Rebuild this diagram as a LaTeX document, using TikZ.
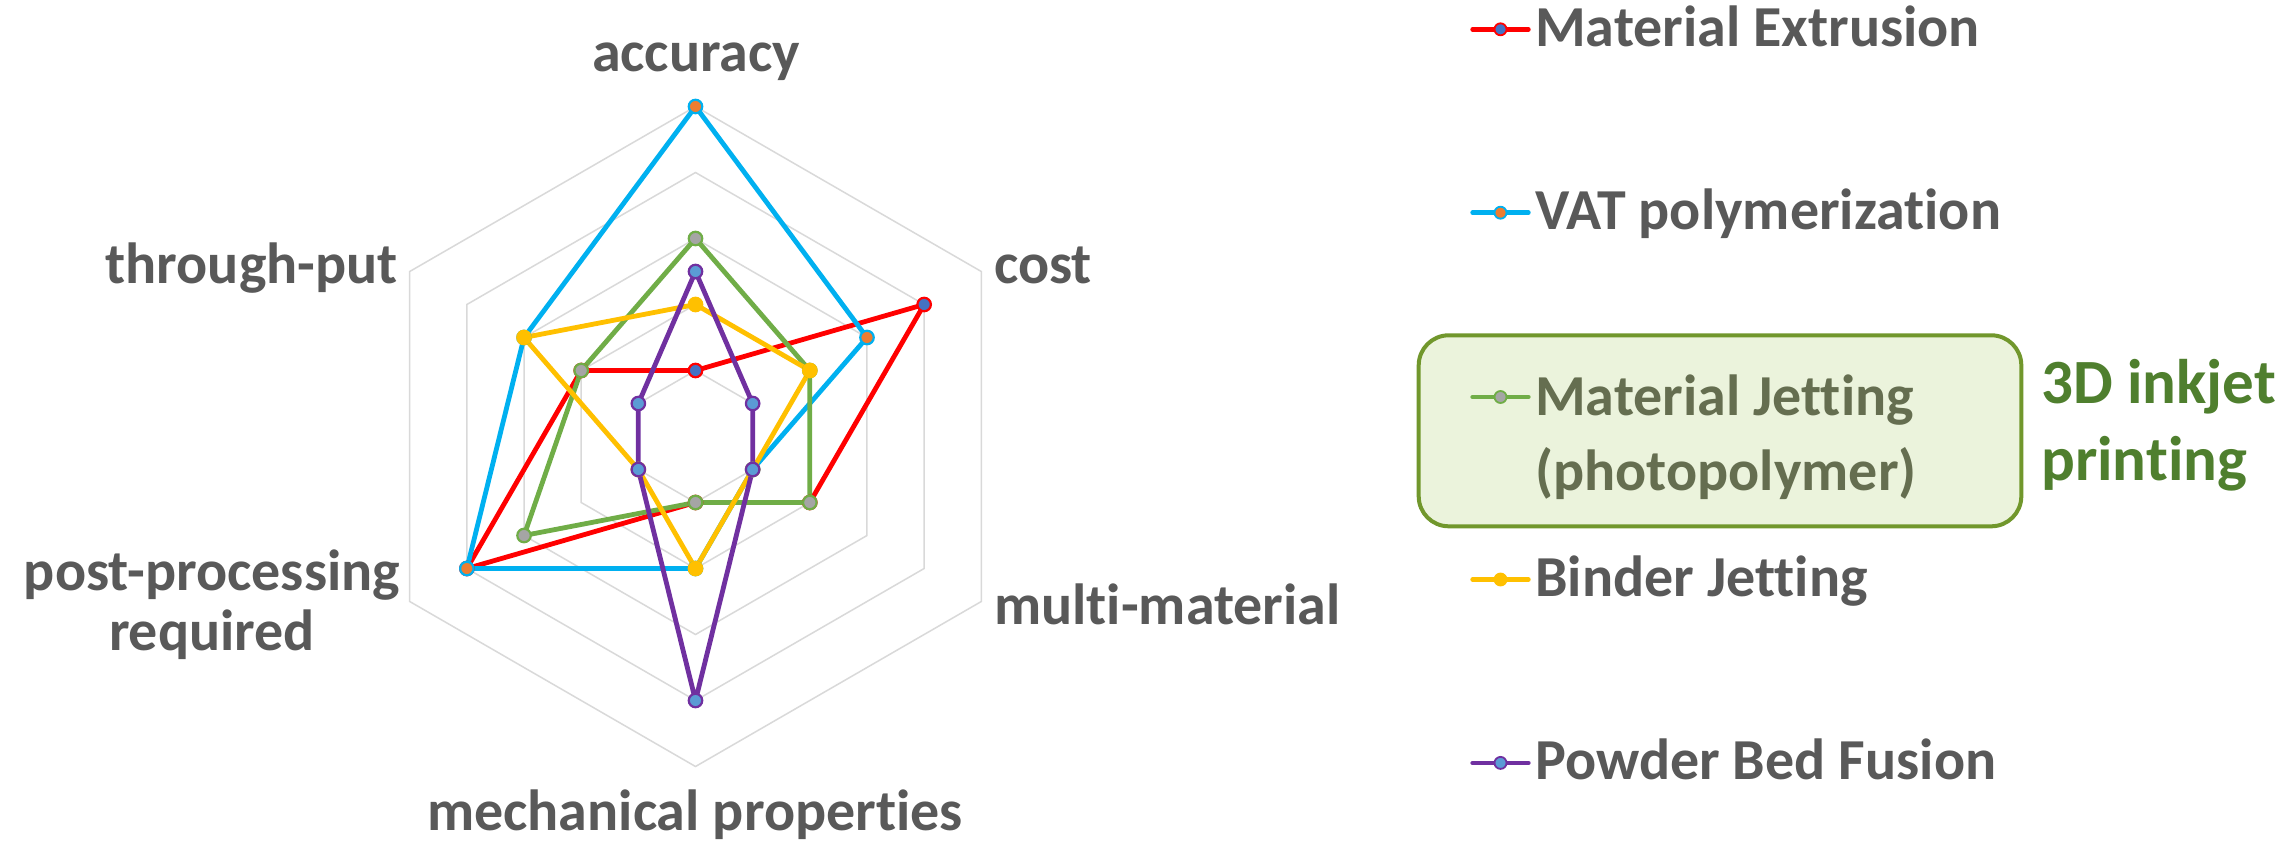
\documentclass[tikz,border=0pt]{standalone}
\usepackage{fontspec}
\setmainfont{Carlito}[Ligatures={NoCommon}]
\definecolor{txt}{HTML}{595959}
\definecolor{gridc}{HTML}{D9D9D9}
\definecolor{cRed}{HTML}{FF0000}
\definecolor{cBlue}{HTML}{00B0F0}
\definecolor{cGreen}{HTML}{70AD47}
\definecolor{cYellow}{HTML}{FFC000}
\definecolor{cPurple}{HTML}{7030A0}
\definecolor{fRed}{HTML}{4472C4}
\definecolor{fBlue}{HTML}{ED7D31}
\definecolor{fGreen}{HTML}{A5A5A5}
\definecolor{fYellow}{HTML}{FFC000}
\definecolor{fPurple}{HTML}{5B9BD5}
\definecolor{boxfill}{HTML}{EBF3DC}
\definecolor{boxline}{HTML}{71972C}
\definecolor{boxtxt}{HTML}{656E50}
\definecolor{inkjet}{HTML}{4F7F2E}
\newcommand\radarline[7]{%
  \draw[ser,#1] (90:#2*66) -- (30:#3*66) -- (-30:#4*66) -- (-90:#5*66) -- (210:#6*66) -- (150:#7*66) -- cycle;}
\newcommand\radarmarks[9]{%
  \node[mk,draw=#2,fill=#3] (#1a) at (90:#4*66) {};
  \node[mk,draw=#2,fill=#3] (#1b) at (30:#5*66) {};
  \node[mk,draw=#2,fill=#3] (#1c) at (-30:#6*66) {};
  \node[mk,draw=#2,fill=#3] (#1d) at (-90:#7*66) {};
  \node[mk,draw=#2,fill=#3] (#1e) at (210:#8*66) {};
  \node[mk,draw=#2,fill=#3] (#1f) at (150:#9*66) {};}
\newcommand\legendrow[5]{% name, line colour, fill colour, y, text
  \coordinate (#1L) at (1472.7,-#4);
  \coordinate (#1R) at (1528.3,-#4);
  \draw[legline,#2] (#1L) -- (#1R);
  \node[lmk,draw=#2,fill=#3] (#1m) at (1500.5,-#4) {};
  \node[lbl,anchor=base west] (#1t) at (1535,-#4-16.7) {#5};}
\begin{document}
\begin{tikzpicture}[x=1pt,y=1pt,
  lbl/.style={font=\fontsize{58}{75}\selectfont\bfseries, text=txt, inner sep=0pt},
  inkjetlbl/.style={font=\fontsize{63}{75}\selectfont\bfseries, text=inkjet, inner sep=0pt, anchor=base west},
  gridline/.style={draw=gridc, line width=1.5},
  ser/.style={line width=4.8, line join=round},
  mk/.style={circle, minimum size=13.5, inner sep=0pt, line width=2.2},
  lmk/.style={circle, minimum size=12, inner sep=0pt, line width=1.8},
  legline/.style={line width=4.8, line cap=round}]
\useasboundingbox (0,0) rectangle (2289,-846);
\fill[white] (0,0) rectangle (2289,-846);
% axis labels
\node[lbl,anchor=base] (acc) at (696,-71.7) {accuracy};
\node[lbl,anchor=base west] (cost) at (994,-283) {cost};
\node[lbl,anchor=base west] (multi) at (994,-624) {multi-material};
\node[lbl,anchor=base] (mech) at (695,-830) {mechanical properties};
\node[lbl,anchor=base east] (thr) at (398,-283) {through-put};
\node[lbl,anchor=base,align=center,font=\fontsize{58}{60}\selectfont\bfseries] (post) at (212,-650) {post-processing\\required};
% radar chart
\begin{scope}[shift={(695.5,-436.5)}]
  \foreach \r in {66,132,198,264,330}
    \draw[gridline] (90:\r) -- (30:\r) -- (-30:\r) -- (-90:\r) -- (210:\r) -- (150:\r) -- cycle;
  \radarline{cRed}{1}{4}{2}{1}{4}{2}
  \radarline{cBlue}{5}{3}{1}{2}{4}{3}
  \radarline{cGreen}{3}{2}{2}{1}{3}{2}
  \radarline{cYellow}{2}{2}{1}{2}{1}{3}
  \radarline{cPurple}{2.5}{1}{1}{4}{1}{1}
  \radarmarks{me}{cRed}{fRed}{1}{4}{2}{1}{4}{2}
  \radarmarks{vp}{cBlue}{fBlue}{5}{3}{1}{2}{4}{3}
  \radarmarks{mj}{cGreen}{fGreen}{3}{2}{2}{1}{3}{2}
  \radarmarks{bj}{cYellow}{fYellow}{2}{2}{1}{2}{1}{3}
  \radarmarks{pb}{cPurple}{fPurple}{2.5}{1}{1}{4}{1}{1}
\end{scope}
% highlight box
\draw[draw=boxline, line width=4, fill=boxfill, rounded corners=30] (1418.7,-335.3) rectangle (2021.3,-526.3);
% legend
\legendrow{lme}{cRed}{fRed}{29.3}{Material Extrusion}
\legendrow{lvp}{cBlue}{fBlue}{212.7}{VAT polymerization}
\coordinate (lmjL) at (1472.7,-397);
\coordinate (lmjR) at (1528.3,-397);
\draw[legline,cGreen] (lmjL) -- (lmjR);
\node[lmk,draw=cGreen,fill=fGreen] (lmjm) at (1500.5,-397) {};
\node[lbl,anchor=base west,text=boxtxt] (lmjt) at (1535,-415) {Material Jetting};
\node[lbl,anchor=base west,text=boxtxt] (lmjt2) at (1535,-490) {(photopolymer)};
\legendrow{lbj}{cYellow}{fYellow}{579.5}{Binder Jetting}
\legendrow{lpb}{cPurple}{fPurple}{762.9}{Powder Bed Fusion}
\node[inkjetlbl] (ink1) at (2041,-403.3) {3D inkjet};
\node[inkjetlbl] (ink2) at (2041,-480) {printing};
\end{tikzpicture}
\end{document}
